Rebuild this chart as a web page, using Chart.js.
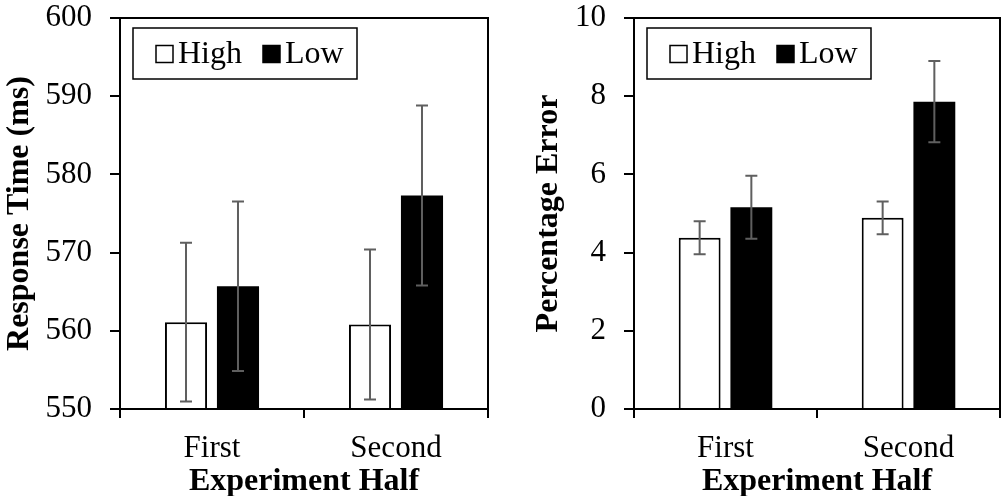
<!DOCTYPE html>
<html>
<head>
<meta charset="utf-8">
<script src="https://cdn.jsdelivr.net/npm/chart.js@4/dist/chart.umd.min.js"></script>
<style>
    html, body { margin: 0; padding: 0; background: #fff; }
    #wrap { position: relative; width: 1001px; height: 496px; }
    #rtChart { position: absolute; left: 0; top: 0; }
    #peChart { position: absolute; left: 500px; top: 0; }
</style>
</head>
<body>
<div id="wrap">
    <canvas id="rtChart" width="500" height="496"></canvas>
    <canvas id="peChart" width="501" height="496"></canvas>
</div>
<script>
// DATA
var categories = ["First", "Second"]
var seriesNames = ["High", "Low"]

var rtHigh = [561.1, 560.8]
var rtLow = [565.7, 577.3]
var rtHighErr = [10.15, 9.6]
var rtLowErr = [10.85, 11.5]
var rtTicks = [550, 560, 570, 580, 590, 600]

var peHigh = [4.38, 4.89]
var peLow = [5.16, 7.86]
var peHighErr = [0.42, 0.42]
var peLowErr = [0.805, 1.04]
var peTicks = [0, 2, 4, 6, 8, 10]

var serif = "'Liberation Serif', 'Times New Roman', serif"
var errColor = "#5f5f5f"

// error bars drawn from dataset.errors through the y scale
var errorBars = {
    id: "errorBars",
    afterDatasetsDraw: function (chart) {
        var ctx = chart.ctx
        var y = chart.scales.y
        ctx.save()
        ctx.strokeStyle = errColor
        ctx.lineWidth = 2
        chart.data.datasets.forEach(function (ds, i) {
            var meta = chart.getDatasetMeta(i)
            meta.data.forEach(function (bar, j) {
                var v = ds.data[j]
                var e = ds.errors[j]
                var top = y.getPixelForValue(v + e)
                var bot = y.getPixelForValue(v - e)
                ctx.beginPath()
                ctx.moveTo(bar.x, top)
                ctx.lineTo(bar.x, bot)
                ctx.moveTo(bar.x - 6, top)
                ctx.lineTo(bar.x + 6, top)
                ctx.moveTo(bar.x - 6, bot)
                ctx.lineTo(bar.x + 6, bot)
                ctx.stroke()
            })
        })
        ctx.restore()
    },
}

// frame around plot + boxed legend in the top left corner
var frameLegend = {
    id: "frameLegend",
    afterDraw: function (chart) {
        var ctx = chart.ctx
        var a = chart.chartArea
        ctx.save()
        ctx.strokeStyle = "#000"
        ctx.lineWidth = 2
        ctx.strokeRect(a.left, a.top, a.right - a.left, a.bottom - a.top)

        var bx = a.left + 13, by = a.top + 10
        ctx.lineWidth = 1.5
        ctx.strokeRect(bx, by, 224, 51)

        ctx.font = "32px " + serif
        ctx.textBaseline = "middle"
        var x = bx + 23
        var cy = by + 26
        chart.data.datasets.forEach(function (ds) {
            ctx.fillStyle = ds.backgroundColor
            ctx.fillRect(x, cy - 8.5, 17, 17)
            ctx.strokeStyle = "#000"
            ctx.lineWidth = 1.5
            ctx.strokeRect(x, cy - 8.5, 17, 17)
            ctx.fillStyle = "#000"
            ctx.fillText(ds.label, x + 22, cy + 1)
            x += 22 + ctx.measureText(ds.label).width + 21
        })
        ctx.restore()
    },
}

function noPad(s) {
    s.paddingTop = 0
    s.paddingBottom = 0
    s.paddingLeft = 0
    s.paddingRight = 0
}

function makeChart(id, highVals, lowVals, highErr, lowErr, ticks, yTitle, yWidth, titlePad, rightPad) {
    return new Chart(id, {
        type: "bar",
        data: {
            labels: categories,
            datasets: [
                {
                    label: seriesNames[0],
                    data: highVals,
                    errors: highErr,
                    backgroundColor: "#ffffff",
                    borderColor: "#000000",
                    borderWidth: 2,
                    barPercentage: 0.81,
                    categoryPercentage: 0.565,
                },
                {
                    label: seriesNames[1],
                    data: lowVals,
                    errors: lowErr,
                    backgroundColor: "#000000",
                    borderColor: "#000000",
                    borderWidth: 0,
                    barPercentage: 0.81,
                    categoryPercentage: 0.565,
                },
            ],
        },
        options: {
            responsive: false,
            animation: false,
            layout: { padding: { top: 18, right: rightPad, left: 0, bottom: 0 } },
            plugins: {
                legend: { display: false },
                tooltip: { enabled: false },
            },
            scales: {
                x: {
                    grid: {
                        drawOnChartArea: false,
                        color: "#000",
                        lineWidth: 2,
                        tickLength: 9,
                        offset: true,
                    },
                    border: { color: "#000", width: 2 },
                    ticks: {
                        color: "#000",
                        font: { family: serif, size: 31 },
                        padding: 12,
                    },
                    title: {
                        display: true,
                        text: "Experiment Half",
                        color: "#000",
                        font: { family: serif, size: 32, weight: "bold" },
                        padding: { top: 0, bottom: -5 },
                    },
                    afterFit: function (s) {
                        s.height = 87
                        noPad(s)
                    },
                },
                y: {
                    min: ticks[0],
                    max: ticks[ticks.length - 1],
                    afterBuildTicks: function (s) {
                        s.ticks = ticks.map(function (v) { return { value: v } })
                    },
                    grid: {
                        drawOnChartArea: false,
                        color: "#000",
                        lineWidth: 2,
                        tickLength: 10,
                    },
                    border: { color: "#000", width: 2 },
                    ticks: {
                        color: "#000",
                        font: { family: serif, size: 31 },
                        padding: 18,
                    },
                    title: {
                        display: true,
                        text: yTitle,
                        color: "#000",
                        font: { family: serif, size: 32, weight: "bold" },
                        padding: { top: titlePad, bottom: 0 },
                    },
                    afterFit: function (s) {
                        s.width = yWidth
                        noPad(s)
                    },
                },
            },
        },
        plugins: [errorBars, frameLegend],
    })
}

makeChart("rtChart", rtHigh, rtLow, rtHighErr, rtLowErr, rtTicks, "Response Time (ms)", 120, 1, 12)
makeChart("peChart", peHigh, peLow, peHighErr, peLowErr, peTicks, "Percentage Error", 134, 30, 1)
</script>
</body>
</html>
